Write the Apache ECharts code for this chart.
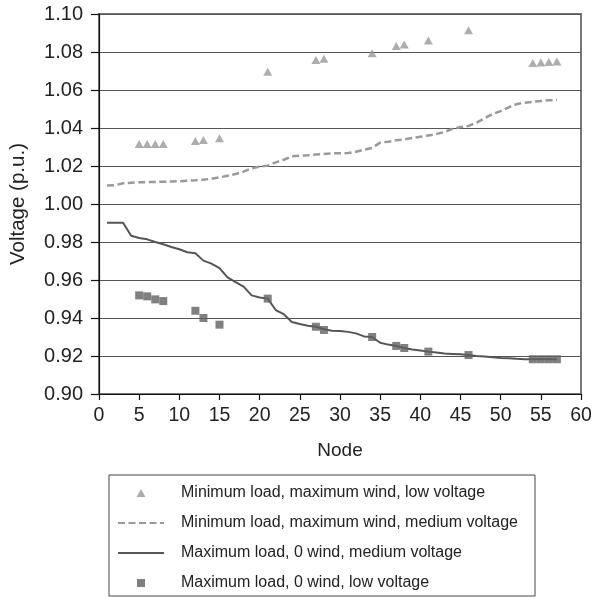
<!DOCTYPE html>
<html>
<head>
<meta charset="utf-8">
<script src="https://cdn.jsdelivr.net/npm/echarts@6/dist/echarts.min.js"></script>
<style>
  html, body { margin: 0; padding: 0; background: #fff; }
  #chart { width: 595px; height: 597px; }
</style>
</head>
<body>
<div id="chart"></div>
<script>
// Nodes where the low-voltage buses are monitored
const busNodes = [5, 6, 7, 8, 12, 13, 15, 21, 27, 28, 34, 37, 38, 41, 46, 54, 55, 56, 57];

// Minimum load, maximum wind: low-voltage bus voltages (p.u.)
const minLoadLowV = [1.0316, 1.0316, 1.0316, 1.0316, 1.0332, 1.0337, 1.0346, 1.0696, 1.0758, 1.0765,
  1.0793, 1.0832, 1.0840, 1.0860, 1.0914, 1.0742, 1.0745, 1.0747, 1.0750];

// Maximum load, zero wind: low-voltage bus voltages (p.u.)
const maxLoadLowV = [0.9519, 0.9514, 0.9498, 0.9489, 0.9438, 0.9400, 0.9365, 0.9502, 0.9354, 0.9337,
  0.9300, 0.9253, 0.9242, 0.9223, 0.9205, 0.9183, 0.9183, 0.9183, 0.9183];

// Feeder nodes 1..57 along the medium-voltage line
const feederNodes = [];
for (let n = 1; n <= 57; n++) feederNodes.push(n);

// Minimum load, maximum wind: medium-voltage profile (p.u.)
const minLoadMedV = [1.0098, 1.0099, 1.0109, 1.0112, 1.0114, 1.0115, 1.0116, 1.0117, 1.0118, 1.0120,
  1.0123, 1.0125, 1.0128, 1.0133, 1.0140, 1.0149, 1.0158, 1.0170, 1.0188, 1.0197,
  1.0202, 1.0219, 1.0233, 1.0251, 1.0254, 1.0256, 1.0260, 1.0263, 1.0267, 1.0267,
  1.0268, 1.0275, 1.0286, 1.0295, 1.0323, 1.0328, 1.0335, 1.0340, 1.0347, 1.0354,
  1.0361, 1.0368, 1.0379, 1.0395, 1.0405, 1.0411, 1.0428, 1.0451, 1.0474, 1.0489,
  1.0509, 1.0526, 1.0533, 1.0538, 1.0542, 1.0546, 1.0547];

// Maximum load, zero wind: medium-voltage profile (p.u.)
const maxLoadMedV = [0.9901, 0.9901, 0.9901, 0.9833, 0.9821, 0.9814, 0.9800, 0.9788, 0.9774, 0.9762,
  0.9746, 0.9741, 0.9702, 0.9686, 0.9663, 0.9614, 0.9589, 0.9565, 0.9519, 0.9508,
  0.9502, 0.9442, 0.9420, 0.9379, 0.9368, 0.9359, 0.9354, 0.9341, 0.9333, 0.9332,
  0.9327, 0.9319, 0.9303, 0.9300, 0.9270, 0.9260, 0.9253, 0.9242, 0.9234, 0.9229,
  0.9223, 0.9218, 0.9213, 0.9211, 0.9209, 0.9205, 0.9200, 0.9197, 0.9193, 0.9190,
  0.9188, 0.9185, 0.9183, 0.9183, 0.9183, 0.9183, 0.9183];

const seriesNames = [
  'Minimum load, maximum wind, low voltage',
  'Minimum load, maximum wind, medium voltage',
  'Maximum load, 0 wind, medium voltage',
  'Maximum load, 0 wind, low voltage'
];

const zip = (xs, ys) => xs.map((x, i) => [x, ys[i]]);

// Legend glyphs: aspect-preserving paths so the markers stay small and centred
const TRIANGLE_ICON = 'path://M5,0L10,9L0,9Z';
const SQUARE_ICON = 'path://M0,0H10V10H0Z';
// Line entries show only their stroke, so their legend marker is made transparent
const HIDDEN_MARKER = { color: 'rgba(0,0,0,0)', borderWidth: 0, borderColor: 'rgba(0,0,0,0)' };

const FONT = 'Liberation Sans, Arial, Helvetica, sans-serif';
const chart = echarts.init(document.getElementById('chart'), null, { renderer: 'canvas' });

chart.setOption({
  animation: false,
  backgroundColor: '#ffffff',
  grid: {
    left: 99, right: 14, top: 14, bottom: 203,
    show: true, borderColor: '#777777', borderWidth: 2, backgroundColor: 'transparent'
  },
  xAxis: {
    type: 'value', min: 0, max: 60, interval: 5,
    name: 'Node', nameLocation: 'middle', nameGap: 47,
    nameTextStyle: { fontFamily: FONT, fontSize: 19, color: '#222' },
    axisLine: { show: true, onZero: false, lineStyle: { color: '#111', width: 1.2 } },
    axisTick: { show: true, length: 6, lineStyle: { color: '#111', width: 1.2 } },
    axisLabel: { fontFamily: FONT, fontSize: 19.5, color: '#222', margin: 12 },
    splitLine: { show: false }
  },
  yAxis: {
    type: 'value', min: 0.90, max: 1.10, interval: 0.02,
    name: 'Voltage (p.u.)', nameLocation: 'middle', nameGap: 70,
    nameTextStyle: { fontFamily: FONT, fontSize: 20.5, color: '#222' },
    axisLine: { show: true, lineStyle: { color: '#111', width: 1.2 } },
    axisTick: { show: true, length: 8, lineStyle: { color: '#111', width: 1.2 } },
    axisLabel: {
      fontFamily: FONT, fontSize: 20, color: '#222', margin: 16,
      formatter: v => v.toFixed(2)
    },
    splitLine: { show: true, lineStyle: { color: '#555555', width: 1.2 } }
  },
  legend: {
    orient: 'vertical', left: 109, top: 475, height: 140,
    padding: [10, 17, 5, 8],
    itemGap: 14, itemWidth: 46, itemHeight: 8,
    symbolKeepAspect: true,
    borderColor: '#444', borderWidth: 1,
    textStyle: { fontFamily: FONT, fontSize: 16, color: '#222', padding: [0, 0, 0, 12] },
    data: [
      { name: seriesNames[0], icon: TRIANGLE_ICON },
      { name: seriesNames[1], itemStyle: HIDDEN_MARKER },
      { name: seriesNames[2], itemStyle: HIDDEN_MARKER },
      { name: seriesNames[3], icon: SQUARE_ICON }
    ]
  },
  series: [
    {
      name: seriesNames[1], type: 'line', data: zip(feederNodes, minLoadMedV),
      symbol: 'circle', showSymbol: false,
      lineStyle: { color: '#9a9a9a', width: 2.5, type: [7, 3.5] },
      itemStyle: { color: '#9a9a9a' }, z: 2
    },
    {
      name: seriesNames[2], type: 'line', data: zip(feederNodes, maxLoadMedV),
      symbol: 'circle', showSymbol: false,
      lineStyle: { color: '#555555', width: 2 },
      itemStyle: { color: '#555555' }, z: 2
    },
    {
      name: seriesNames[0], type: 'scatter', data: zip(busNodes, minLoadLowV),
      symbol: 'triangle', symbolSize: [9, 8],
      itemStyle: { color: '#999999' }, z: 3
    },
    {
      name: seriesNames[3], type: 'scatter', data: zip(busNodes, maxLoadLowV),
      symbol: 'rect', symbolSize: 8,
      itemStyle: { color: '#606060' }, z: 3
    }
  ]
});
</script>
</body>
</html>
